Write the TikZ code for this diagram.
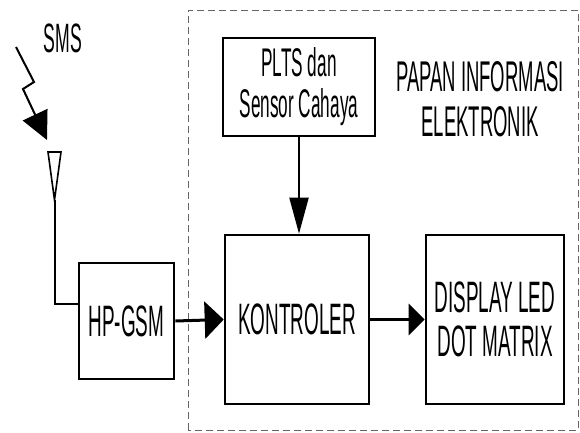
\documentclass[tikz,border=0pt]{standalone}
\usepackage{fontspec}
\setmainfont[FakeStretch=0.43]{Liberation Sans}
\usetikzlibrary{arrows.meta}

\tikzset{
  blok/.style={draw, line width=2.6pt, align=center, inner sep=0pt},
  panahH/.style={line width=3pt, -{Triangle[length=16pt,width=31pt]}},
  panahV/.style={line width=2pt, -{Triangle[length=36pt,width=19pt]}},
  petir/.style={line width=2pt, -{Triangle[length=28pt,width=27pt]}},
  batas/.style={draw=black!60, line width=0.8pt, dash pattern=on 7pt off 4pt},
}

\begin{document}
\begin{tikzpicture}[x=1pt,y=1pt,font=\fontsize{44}{44}\selectfont]
  \useasboundingbox (0,0) rectangle (580,432);

  % kotak putus-putus papan informasi
  \draw[batas] (188,2) rectangle (578,422);
  \node[align=center, font=\fontsize{43}{45}\selectfont] (papan) at (480,333) {PAPAN INFORMASI\\ELEKTRONIK};

  % blok-blok
  \node[blok, minimum width=152pt, minimum height=98pt, font=\fontsize{40}{41}\selectfont] (plts) at (299,345) {PLTS dan\\Sensor Cahaya};
  \node[blok, minimum width=144pt, minimum height=169pt] (kontroler) at (297,112.5) {KONTROLER};
  \node[blok, minimum width=138pt, minimum height=169pt] (display) at (495,112.5) {DISPLAY LED\\DOT MATRIX};
  \node[blok, minimum width=95pt, minimum height=116pt] (hp) at (126.5,111) {HP-GSM};

  % antena
  \coordinate (ant) at (54.5,232);
  \draw[line width=1.6pt] (48,280) -- (61,280) -- (ant) -- cycle;
  \draw[line width=2pt] (ant) |- ([yshift=17pt]hp.west);

  % sinyal sms
  \node[font=\fontsize{41}{41}\selectfont] (sms) at (63,394) {SMS};
  \coordinate (smstip) at (47,292);
  \draw[petir] (16,385) -- (34,350) -- (23,343) -- (smstip);

  % panah
  \draw[panahH, -{Triangle[length=19pt,width=37pt]}] (hp.east) -- (kontroler.west);
  \draw[panahH] (kontroler.east) -- (display.west);
  \draw[panahV] (plts.south) -- (plts.south |- kontroler.north);
\end{tikzpicture}
\end{document}
